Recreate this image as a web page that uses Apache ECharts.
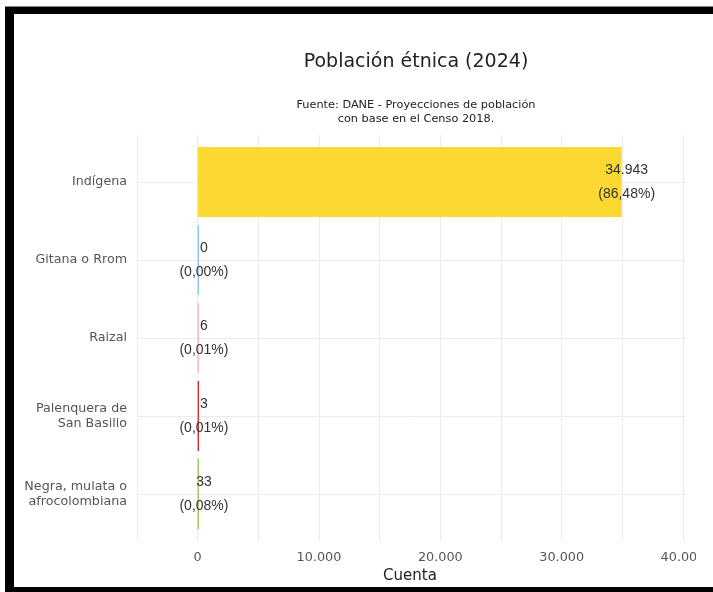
<!DOCTYPE html>
<html>
<head>
<meta charset="utf-8">
<script src="https://cdn.jsdelivr.net/npm/echarts@6/dist/echarts.min.js"></script>
<style>html,body{margin:0;padding:0;background:#fff}#c{width:713px;height:592px}</style>
</head>
<body>
<div id="c"></div>
<script>
// ---- data ----
var categories = ['Indígena', 'Gitana o Rrom', 'Raizal', 'Palenquera de\nSan Basilio', 'Negra, mulata o\nafrocolombiana'];
var values = [34943, 0, 6, 3, 33];
var percents = ['86,48%', '0,00%', '0,01%', '0,01%', '0,08%'];
var xTicks = [-5000, 40000, 5000]; // min, max, step
var barColors = ['#FCD932', '#8FCBE3', '#F6B8C8', '#CC2A2A', '#9CC95E'];

function fmt(n) {
  return String(n).replace(/\B(?=(\d{3})+(?!\d))/g, '.');
}

var chart = echarts.init(document.getElementById('c'), null, {renderer: 'canvas'});
var font = 'DejaVu Sans';
var L = 137, W = 546;

var option = {
  backgroundColor: '#fff',
  animation: false,
  title: [
    {text: 'Población étnica (2024)', left: 411, top: 48, textAlign: 'center',
     textStyle: {fontFamily: font, fontSize: 19, fontWeight: 'normal', color: '#222'}},
    {text: 'Fuente: DANE - Proyecciones de población\ncon base en el Censo 2018.', left: 411, top: 93, textAlign: 'center',
     textStyle: {fontFamily: font, fontSize: 11.3, fontWeight: 'normal', color: '#222', lineHeight: 14}}
  ],
  grid: [
    {left: L, width: W, top: 143, height: 390},
    {left: L, width: W, top: 135, height: 406},
    {left: L, width: W + 3, top: 182, height: 312}
  ],
  xAxis: [
    {gridIndex: 0, type: 'value', min: xTicks[0], max: xTicks[1], interval: xTicks[2], show: false},
    {gridIndex: 1, type: 'value', min: xTicks[0], max: xTicks[1], interval: xTicks[2],
     axisLine: {show: false}, axisTick: {show: false},
     splitLine: {show: true, lineStyle: {color: '#ebebeb', width: 1}},
     axisLabel: {margin: 10, fontFamily: font, fontSize: 12.8, color: '#555',
       formatter: function (v) { return (v % 10000 === 0) ? fmt(v) : ''; }},
     name: 'Cuenta', nameLocation: 'middle', nameGap: 28,
     nameTextStyle: {fontFamily: font, fontSize: 15, color: '#222'}},
    {gridIndex: 2, type: 'value', min: xTicks[0], max: xTicks[1], show: false}
  ],
  yAxis: [
    {gridIndex: 0, type: 'category', data: categories, inverse: true, show: false},
    {gridIndex: 1, type: 'value', show: false},
    {gridIndex: 2, type: 'category', data: categories, inverse: true, boundaryGap: false,
     axisLine: {show: false}, axisTick: {show: false},
     splitLine: {show: true, lineStyle: {color: '#ebebeb', width: 1}},
     axisLabel: {margin: 10, fontFamily: font, fontSize: 12.7, color: '#555', lineHeight: 15, align: 'right'}}
  ],
  series: [{
    type: 'bar',
    xAxisIndex: 0, yAxisIndex: 0,
    barCategoryGap: '10%',
    barMinHeight: 1.3,
    data: values.map(function (v, i) {
      return {value: v, itemStyle: {color: barColors[i]}};
    }),
    label: {
      show: true,
      position: ['100%', '50%'],
      align: 'center', verticalAlign: 'middle',
      offset: [5, 0],
      fontFamily: 'Liberation Sans', fontSize: 14, color: '#333', lineHeight: 24,
      formatter: function (p) { return fmt(values[p.dataIndex]) + '\n(' + percents[p.dataIndex] + ')'; }
    }
  }],
  graphic: [
    {type: 'rect', z: 100, shape: {x: 696, y: 14, width: 17, height: 573}, style: {fill: '#fff'}},
    {type: 'rect', z: 101, shape: {x: 5, y: 7, width: 708, height: 7}, style: {fill: '#000'}},
    {type: 'rect', z: 101, shape: {x: 5, y: 7, width: 9, height: 585}, style: {fill: '#000'}},
    {type: 'rect', z: 101, shape: {x: 5, y: 587, width: 708, height: 5}, style: {fill: '#000'}},
    {type: 'rect', z: 101, shape: {x: 5, y: 6, width: 708, height: 1}, style: {fill: '#888'}}
  ]
};
chart.setOption(option);
</script>
</body>
</html>
